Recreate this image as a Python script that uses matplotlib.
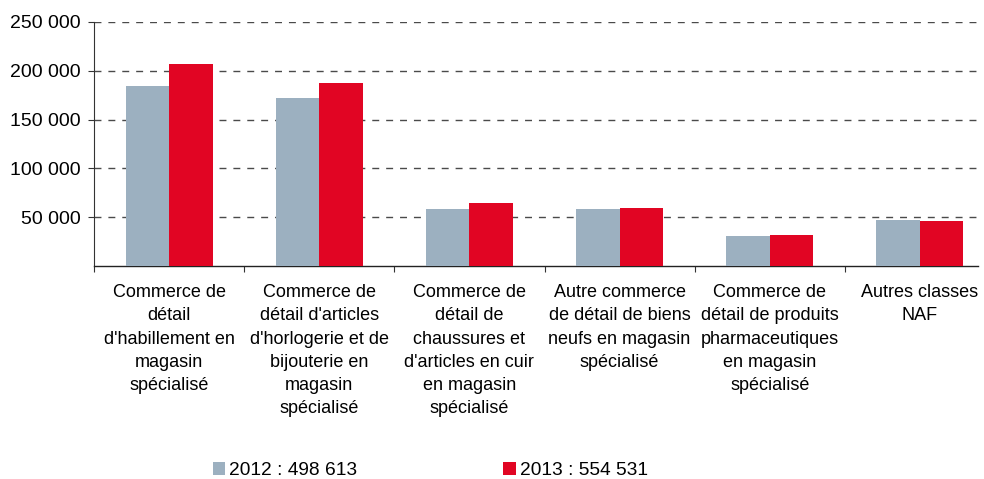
import matplotlib
matplotlib.use("Agg")
import numpy as np
from matplotlib import pyplot as plt
from matplotlib.ticker import FuncFormatter

# data
categories = [
    "Commerce de\ndétail\nd'habillement en\nmagasin\nspécialisé",
    "Commerce de\ndétail d'articles\nd'horlogerie et de\nbijouterie en\nmagasin\nspécialisé",
    "Commerce de\ndétail de\nchaussures et\nd'articles en cuir\nen magasin\nspécialisé",
    "Autre commerce\nde détail de biens\nneufs en magasin\nspécialisé",
    "Commerce de\ndétail de produits\npharmaceutiques\nen magasin\nspécialisé",
    "Autres classes\nNAF",
]
values_2012 = [184900, 172600, 58600, 58600, 30800, 47300]
values_2013 = [206800, 188000, 64700, 59600, 31800, 46200]
legend_labels = ["2012 : 498 613", "2013 : 554 531"]
y_ticks = [50000, 100000, 150000, 200000, 250000]

GRAY = "#9cb0c0"
RED = "#e10523"

plt.rcParams["font.family"] = ["Liberation Sans", "DejaVu Sans"]

fig = plt.figure(figsize=(9.84, 4.79), dpi=100)
ax = fig.add_axes([94 / 984, 213 / 479, (978 - 94) / 984, 244 / 479])

x = np.arange(len(categories))
w = 0.29
b1 = ax.bar(x - w / 2, values_2012, w, color=GRAY, label=legend_labels[0], zorder=3)
b2 = ax.bar(x + w / 2, values_2013, w, color=RED, label=legend_labels[1], zorder=3)

# y axis
ax.set_yticks(y_ticks)
ax.yaxis.set_major_formatter(FuncFormatter(lambda v, p: "{:,}".format(int(v)).replace(",", " ")))
ax.tick_params(axis="y", length=4.5, width=0.8, color="#333333", labelsize=14, pad=5)
ax.grid(axis="y", color="#4a4a4a", linewidth=1.0, linestyle=(0, (5, 5)), zorder=0)

# x axis: ticks at boundaries, labels in the middle
ax.set_xticks(np.arange(-0.5, 6.0, 1.0))
ax.set_xticklabels([])
ax.set_xticks(x, minor=True)
ax.set_xticklabels(categories, minor=True, fontsize=13, linespacing=1.48)
ax.tick_params(axis="x", which="major", length=4.5, width=0.8, color="#333333")
ax.tick_params(axis="x", which="minor", length=0, pad=13)

ax.set_xlim(-0.5, 5.5 - 17 / 150)
ax.set_ylim(0, 250000)

for s in ["top", "right"]:
    ax.spines[s].set_visible(False)
ax.spines["left"].set_color("#333333")
ax.spines["bottom"].set_color("#222222")
ax.spines["left"].set_linewidth(0.8)
ax.spines["bottom"].set_linewidth(1.0)

fig.legend(handles=[b1, b2], loc="lower left", bbox_to_anchor=(205 / 984, -0.016),
           ncol=2, frameon=False, fontsize=13.8, handlelength=0.65, handleheight=0.65,
           handletextpad=0.22, columnspacing=7.6, borderaxespad=0)

fig.savefig("out.png", dpi=100)
